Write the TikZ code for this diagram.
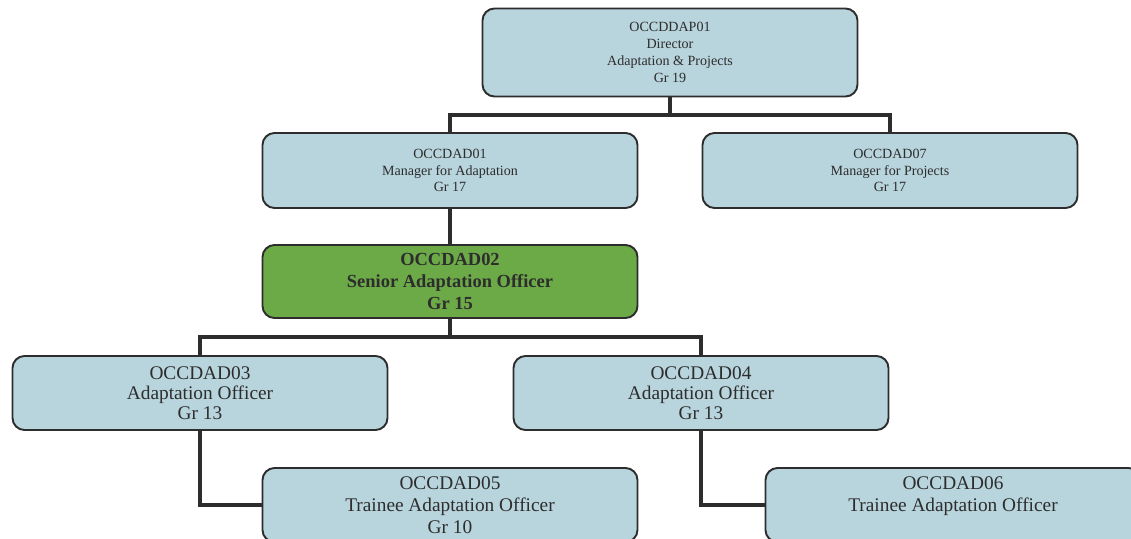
\documentclass[tikz,border=0pt]{standalone}
\usepackage{fontspec}
\setmainfont{Liberation Serif}
\usetikzlibrary{positioning}
\definecolor{boxblue}{RGB}{184,212,220}
\definecolor{boxgreen}{RGB}{108,170,72}
\definecolor{inkgrey}{RGB}{45,45,45}

\begin{document}
\begin{tikzpicture}[
		post/.style={draw=inkgrey, line width=1.1pt, rounded corners=0.24cm, fill=boxblue, text=inkgrey, align=center, minimum width=7.5cm, inner sep=2pt},
		toppost/.style={post, font=\fontsize{8}{9.6}\selectfont},
		midpost/.style={post, font=\fontsize{11}{11.2}\selectfont, minimum height=1.48cm},
		lowpost/.style={post, font=\fontsize{11}{12.5}\selectfont, minimum height=1.48cm},
		keypost/.style={post, fill=boxgreen, font=\bfseries\fontsize{10.5}{12.6}\selectfont, minimum height=1.46cm},
		link/.style={draw=inkgrey, line width=2.8pt}
	]
			%%%%% START %%%%%
			
			\useasboundingbox (0, 0) rectangle (22.62, -10.76);
			\clip (0, 0) rectangle (22.62, -10.76);
			
			\node[toppost, minimum height=1.76cm] (dir) at (13.4, -1.05) {OCCDDAP01\\Director\\Adaptation \& Projects\\Gr 19};
			\node[toppost, minimum height=1.5cm] (mgrad) at (9.0, -3.41) {OCCDAD01\\Manager for Adaptation\\Gr 17};
			\node[toppost, minimum height=1.5cm] (mgrpr) at (17.8, -3.41) {OCCDAD07\\Manager for Projects\\Gr 17};
			
			\node[keypost] (senior) at (9.0, -5.63) {OCCDAD02\\Senior Adaptation Officer\\Gr 15};
			
			\node[midpost] (offa) at (4.0, -7.86) {OCCDAD03\\Adaptation Officer\\Gr 13};
			\node[midpost] (offb) at (14.02, -7.86) {OCCDAD04\\Adaptation Officer\\Gr 13};
			
			\node[lowpost] (trna) at (9.0, -10.1) {OCCDAD05\\Trainee Adaptation Officer\\Gr 10};
			\node[lowpost] (trnb) at (19.06, -10.1) {OCCDAD06\\Trainee Adaptation Officer\\\mbox{}};
			
			\coordinate (topbus) at (13.4, -2.3);
			\coordinate (midbus) at (9.0, -6.74);
			
			\draw[link] (dir.south) -- (topbus);
			\draw[link] (mgrad.north) |- (topbus) -| (mgrpr.north);
			\draw[link] (mgrad.south) -- (senior.north);
			\draw[link] (senior.south) -- (midbus);
			\draw[link] (offa.north) |- (midbus) -| (offb.north);
			\draw[link] (offa.south) |- (trna.west);
			\draw[link] (offb.south) |- (trnb.west);
			
			%%%%% END %%%%%
		\end{tikzpicture}
\end{document}
